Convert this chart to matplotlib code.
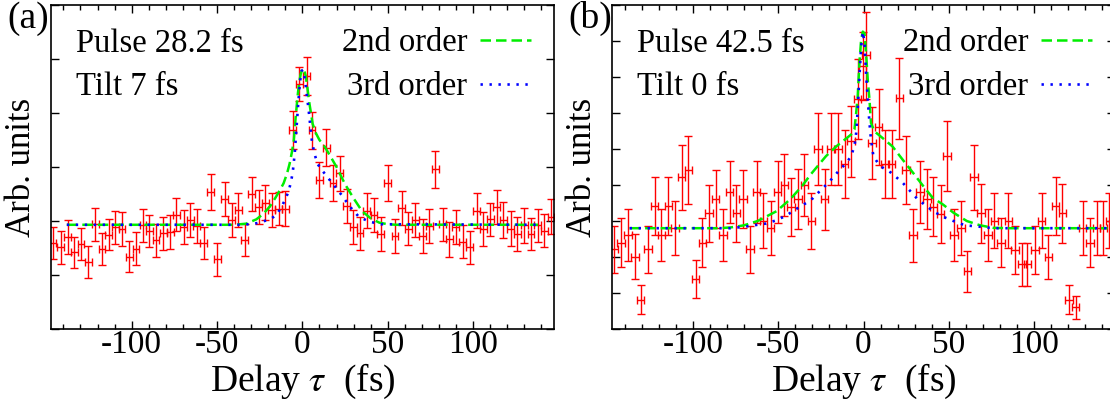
import matplotlib
matplotlib.use('Agg')
import matplotlib.pyplot as plt
from matplotlib.ticker import MultipleLocator, NullFormatter

plt.rcParams['font.family'] = ['Liberation Serif', 'DejaVu Serif']
plt.rcParams['mathtext.fontset'] = 'stix'
plt.rcParams['axes.unicode_minus'] = False

# ---- panel (a): measured points (delay fs, signal, error) ----
a_x = [-146.3, -141.5, -137.6, -133.7, -129.7, -125.5, -121.3, -117.4, -113.5, -109.6,
       -105.7, -101.4, -97.5, -93.4, -89.7, -85.8, -81.5, -77.4, -73.9, -69.6,
       -65.7, -61.8, -57.9, -53.6, -49.9, -45.4, -41.5, -37.6, -33.7, -29.6,
       -25.7, -21.8, -17.9, -14.0, -10.0, -5.7, -1.8, 2.5, 5.6, 9.9,
       14.0, 17.9, 21.8, 25.9, 29.8, 33.7, 37.6, 41.9, 45.8, 49.9,
       54.2, 58.1, 62.0, 66.1, 70.4, 74.3, 77.8, 82.1, 86.0, 89.9,
       93.8, 98.1, 102.2, 105.9, 110.0, 113.9, 117.8, 122.1, 126.0, 129.9,
       133.9, 137.8, 141.7, 145.6]
a_y = [0.59, 0.51, 0.70, 0.42, 0.57, 0.24, 0.94, 0.48, 0.75, 0.88,
       0.85, 0.34, 0.49, 0.92, 0.82, 0.64, 0.77, 0.80, 1.12, 0.89,
       1.02, 0.91, 0.59, 1.54, 0.29, 1.41, 1.02, 1.20, 0.65, 1.50,
       1.26, 1.34, 1.20, 1.23, 1.23, 2.68, 3.54, 3.68, 2.68, 1.76,
       2.36, 1.70, 1.88, 1.28, 0.89, 0.77, 1.19, 1.11, 0.76, 1.70,
       0.72, 1.24, 0.86, 1.02, 0.72, 0.91, 1.96, 0.94, 0.66, 0.89,
       0.62, 0.51, 1.19, 0.85, 1.03, 1.26, 1.02, 0.86, 0.76, 0.92,
       0.76, 0.92, 0.82, 1.08]
a_yerr = [0.30, 0.30, 0.31, 0.29, 0.30, 0.29, 0.31, 0.30, 0.29, 0.31,
          0.31, 0.29, 0.30, 0.31, 0.30, 0.30, 0.31, 0.31, 0.31, 0.31,
          0.32, 0.31, 0.29, 0.33, 0.30, 0.32, 0.31, 0.31, 0.30, 0.31,
          0.31, 0.32, 0.31, 0.30, 0.32, 0.35, 0.32, 0.35, 0.34, 0.34,
          0.34, 0.33, 0.32, 0.32, 0.31, 0.31, 0.32, 0.31, 0.31, 0.33,
          0.32, 0.32, 0.31, 0.32, 0.31, 0.31, 0.34, 0.31, 0.32, 0.31,
          0.31, 0.30, 0.32, 0.32, 0.31, 0.32, 0.33, 0.32, 0.31, 0.32,
          0.30, 0.30, 0.31, 0.32]

# fits (a)
a2_x = [-138, -40, -33, -27, -23, -19, -16, -13, -11, -9, -7.5, -6, -5, -4, -3, -2, -1, 0,
        1, 2, 3, 4, 5, 6, 8, 10, 13, 16, 20, 25, 30, 35, 40, 45, 50, 55, 138]
a2_y = [0.93, 0.93, 0.95, 1.03, 1.13, 1.27, 1.42, 1.58, 1.70, 1.88, 2.06, 2.30, 2.50, 2.90,
        3.25, 3.55, 3.72, 3.82, 3.80, 3.68, 3.45, 3.20, 3.00, 2.80, 2.62, 2.50, 2.38, 2.22,
        2.00, 1.68, 1.42, 1.18, 1.05, 0.97, 0.94, 0.93, 0.93]
a3_x = [-138, -35, -28, -23, -18, -15, -12.5, -10, -8, -6.5, -5.5, -4.5, -3.5, -2.5, -1.5,
        -0.5, 0.5, 1.5, 2.5, 3.5, 4.5, 5.5, 7, 9, 12, 15, 19, 23, 28, 33, 39, 46, 138]
a3_y = [0.93, 0.93, 0.95, 0.99, 1.05, 1.12, 1.25, 1.40, 1.56, 1.75, 1.95, 2.25, 2.70, 3.15,
        3.55, 3.78, 3.80, 3.62, 3.35, 3.10, 2.80, 2.50, 2.25, 2.05, 1.92, 1.80, 1.64, 1.48,
        1.26, 1.08, 0.99, 0.94, 0.93]

# ---- panel (b) ----
b_x = [-146.1, -142.2, -137.9, -134.0, -130.5, -126.2, -122.3, -118.4, -114.3, -110.4,
       -106.5, -102.6, -98.3, -94.4, -90.5, -86.6, -82.3, -78.4, -74.5, -70.6,
       -66.5, -62.6, -58.7, -54.4, -50.3, -46.3, -42.4, -38.5, -34.6, -30.6,
       -26.7, -22.8, -18.9, -15.0, -11.1, -7.3, -3.5, -0.5, 1.5, 5.0,
       8.8, 12.5, 16.5, 21.0, 24.9, 28.9, 33.2, 37.1, 41.0, 45.2,
       48.8, 53.1, 57.0, 60.9, 64.8, 68.7, 72.8, 76.7, 80.6, 84.9,
       88.8, 92.7, 96.0, 100.5, 104.4, 108.3, 112.6, 116.5, 120.4, 124.3,
       128.4, 132.7, 136.6, 140.5, 144.0]
b_y = [1.21, 1.40, 1.60, 1.01, -0.19, 1.21, 2.41, 1.60, 2.41, 1.81,
       3.21, 3.41, 0.40, 1.40, 2.21, 2.61, 1.60, 2.81, 2.21, 2.61,
       1.21, 2.81, 2.01, 1.80, 2.81, 3.01, 2.39, 2.61, 3.01, 2.01,
       4.00, 2.60, 4.00, 4.00, 3.59, 4.21, 5.39, 6.30, 6.60, 4.17,
       4.61, 3.59, 3.59, 5.41, 3.41, 1.60, 2.80, 2.61, 2.40, 2.20,
       3.80, 1.60, 1.81, 0.60, 3.21, 2.21, 1.60, 2.01, 1.40, 2.01,
       1.19, 0.80, 0.80, 1.19, 2.01, 1.00, 2.41, 2.21, -0.19, -0.40,
       1.80, 1.40, 1.80, 1.80, 2.01]
b_yerr = [0.66, 0.69, 0.72, 0.62, 0.40, 0.66, 0.81, 0.72, 0.81, 0.75,
          0.91, 0.94, 0.53, 0.69, 0.80, 0.81, 0.72, 0.86, 0.80, 0.81,
          0.66, 0.86, 0.77, 0.75, 0.86, 0.86, 0.81, 0.83, 0.86, 0.78,
          0.99, 0.84, 0.99, 0.99, 0.95, 0.99, 1.12, 0.95, 1.21, 1.00,
          1.05, 0.94, 0.94, 1.12, 0.94, 0.73, 0.86, 0.83, 0.82, 0.81,
          0.97, 0.72, 0.75, 0.56, 0.91, 0.81, 0.72, 0.77, 0.69, 0.77,
          0.66, 0.60, 0.60, 0.66, 0.77, 0.62, 0.81, 0.81, 0.40, 0.33,
          0.75, 0.69, 0.75, 0.75, 0.77]

b2_x = [-137, -85, -78, -70, -62, -51, -43, -36, -31, -22, -16, -11, -7.3, -5.3, -4.3, -3.4,
        -2.4, -1.4, -0.4, 0.6, 1.5, 2.5, 3.5, 4.4, 6.4, 11.3, 17, 23, 29, 35, 40.6, 46.5,
        52.7, 60.5, 68.3, 76, 85, 143]
b2_y = [1.80, 1.80, 1.82, 1.88, 2.00, 2.27, 2.60, 2.97, 3.29, 3.80, 4.07, 4.26, 4.40, 4.54,
        5.00, 5.46, 6.38, 7.03, 7.26, 7.21, 6.66, 5.92, 5.37, 4.72, 4.49, 4.30, 4.07, 3.70,
        3.34, 2.97, 2.64, 2.46, 2.23, 2.00, 1.88, 1.81, 1.80, 1.80]
b3_x = [-137, -78, -70, -57, -51, -45.3, -39.5, -33.6, -29.7, -25.8, -20.9, -17, -14.1, -10.2,
        -7.3, -5.3, -4.3, -3.4, -2.4, -1.4, -0.4, 0.6, 1.5, 2.5, 3.5, 4.4, 5.8, 8.3, 11.3,
        16.2, 23, 31.8, 40.6, 46.5, 52.7, 59.5, 68.3, 76, 143]
b3_y = [1.80, 1.80, 1.84, 1.93, 2.02, 2.15, 2.33, 2.50, 2.63, 2.82, 3.05, 3.25, 3.42, 3.60,
        3.80, 4.08, 4.44, 5.09, 6.01, 6.84, 7.26, 6.94, 6.10, 5.37, 4.72, 4.26, 3.80, 3.62,
        3.48, 3.34, 3.06, 2.60, 2.28, 2.12, 2.00, 1.88, 1.84, 1.80, 1.80]

panels = [
    dict(label='(a)', x=a_x, y=a_y, yerr=a_yerr, xerr=2.0, f2=(a2_x, a2_y), f3=(a3_x, a3_y),
         ylim=(-1, 5), texts=['Pulse 28.2 fs', 'Tilt 7 fs']),
    dict(label='(b)', x=b_x, y=b_y, yerr=b_yerr, xerr=2.2, f2=(b2_x, b2_y), f3=(b3_x, b3_y),
         ylim=(-1, 8), texts=['Pulse 42.5 fs', 'Tilt 0 fs']),
]

W, H = 1110, 403
fig = plt.figure(figsize=(W / 100, H / 100), dpi=100)
lefts = [50.6, 611.7]
ax_w = 503.6
for p, left in zip(panels, lefts):
    ax = fig.add_axes([left / W, (H - 329) / H, ax_w / W, 324 / H])
    ax.errorbar(p['x'], p['y'], yerr=p['yerr'], xerr=p['xerr'], fmt='none',
                ecolor='#ff0000', elinewidth=1.0, capsize=3.2, capthick=1.0, zorder=2)
    ax.plot(*p['f2'], color='#00ee00', lw=1.8, dashes=(4.2, 2.0), label='2nd order', zorder=3)
    ax.plot(*p['f3'], color='#0000ff', lw=1.9, dashes=(0.9, 2.5), label='3rd order', zorder=4)
    ax.set_xlim(-147.5, 147.5)
    ax.set_ylim(*p['ylim'])
    ax.xaxis.set_major_locator(MultipleLocator(50))
    ax.xaxis.set_minor_locator(MultipleLocator(10))
    ax.yaxis.set_major_locator(MultipleLocator(1))
    ax.yaxis.set_major_formatter(NullFormatter())
    ax.tick_params(which='both', direction='in', top=True, right=True, width=1.0)
    ax.tick_params(which='major', length=6)
    ax.tick_params(which='minor', length=3.5)
    ax.tick_params(axis='x', labelsize=24, pad=0.5)
    for s in ax.spines.values():
        s.set_linewidth(1.2)
    ax.set_xlabel('Delay $\\tau$  (fs)', fontsize=27)
    ax.xaxis.set_label_coords(0.5, -0.102)
    ax.set_ylabel('Arb. units', fontsize=25)
    ax.yaxis.set_label_coords(-0.026, 0.5)
    ax.text(0.051, 0.856, p['texts'][0], transform=ax.transAxes, fontsize=23.5, va='baseline')
    ax.text(0.051, 0.722, p['texts'][1], transform=ax.transAxes, fontsize=23.5, va='baseline')
    ax.legend(loc='upper right', bbox_to_anchor=(0.954, 0.93), borderaxespad=0, borderpad=0,
              frameon=False, markerfirst=False, fontsize=23.5, handlelength=1.56,
              handletextpad=0.4, labelspacing=0.42)
    fig.text((left - 43) / W, 0.93, p['label'], fontsize=27, va='baseline')

fig.savefig('out.png', dpi=100)
